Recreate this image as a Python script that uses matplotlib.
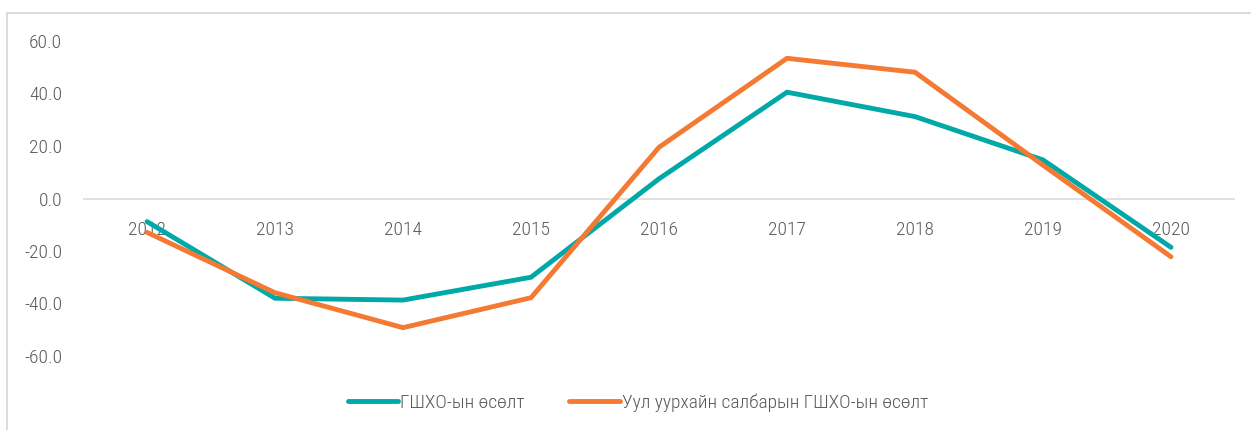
import matplotlib
matplotlib.use("Agg")
import matplotlib.pyplot as plt
import matplotlib.patches as patches

plt.rcParams['font.family'] = ['Roboto Condensed', 'DejaVu Sans']
plt.rcParams['font.weight'] = 300

years = ["2012", "2013", "2014", "2015", "2016", "2017", "2018", "2019", "2020"]
gdp_growth = [-8.8, -38.0, -38.7, -30.0, 7.5, 40.5, 31.2, 14.7, -18.6]
mining_growth = [-12.9, -35.9, -49.2, -37.8, 19.5, 53.4, 48.1, 12.7, -22.2]
legend_labels = ["ГШХО-ын өсөлт", "Уул уурхайн салбарын ГШХО-ын өсөлт"]
yticks = [-60, -40, -20, 0, 20, 40, 60]

teal = "#00A9A7"
orange = "#F47A33"
txt = "#595959"

fig = plt.figure(figsize=(12.51, 4.30), dpi=100)
ax = fig.add_axes([83/1251, (430-382.25)/430, (1235-83)/1251, (382.25-14.75)/430])

x = list(range(len(years)))
l1, = ax.plot(x, gdp_growth, color=teal, lw=3.5, solid_capstyle='round', solid_joinstyle='miter', zorder=3)
l2, = ax.plot(x, mining_growth, color=orange, lw=3.5, solid_capstyle='round', solid_joinstyle='miter', zorder=4)

ax.set_xlim(-0.5, len(years) - 0.5)
ax.set_ylim(-70, 70)
ax.axhline(0, color="#d9d9d9", lw=1.1, zorder=1)

ax.set_yticks(yticks)
ax.set_yticklabels(["%.1f" % v for v in yticks])
ax.tick_params(axis='y', length=0, pad=15, labelsize=14, labelcolor=txt)
ax.set_xticks([])
for s in ax.spines.values():
    s.set_visible(False)

# category labels sit just under the zero line
for i, yr in enumerate(years):
    ax.annotate(yr, xy=(i, 0), xytext=(0, -22.5), textcoords="offset points",
                ha='center', va='center', fontsize=14, color=txt, zorder=2)

leg = fig.legend([l1, l2], legend_labels, loc='center', bbox_to_anchor=(638/1251, 27/430),
                 ncol=2, frameon=False, fontsize=14, handlelength=2.6, handletextpad=0.1,
                 columnspacing=2.3, labelcolor=txt)
for h in leg.get_lines():
    h.set_linewidth(3.5)

border = patches.Rectangle((7/1251, -0.05), 1.1, (430-13)/430 + 0.05, transform=fig.transFigure,
                           fill=False, edgecolor="#d9d9d9", lw=1.3)
fig.patches.append(border)

fig.savefig("out.png", dpi=100)
